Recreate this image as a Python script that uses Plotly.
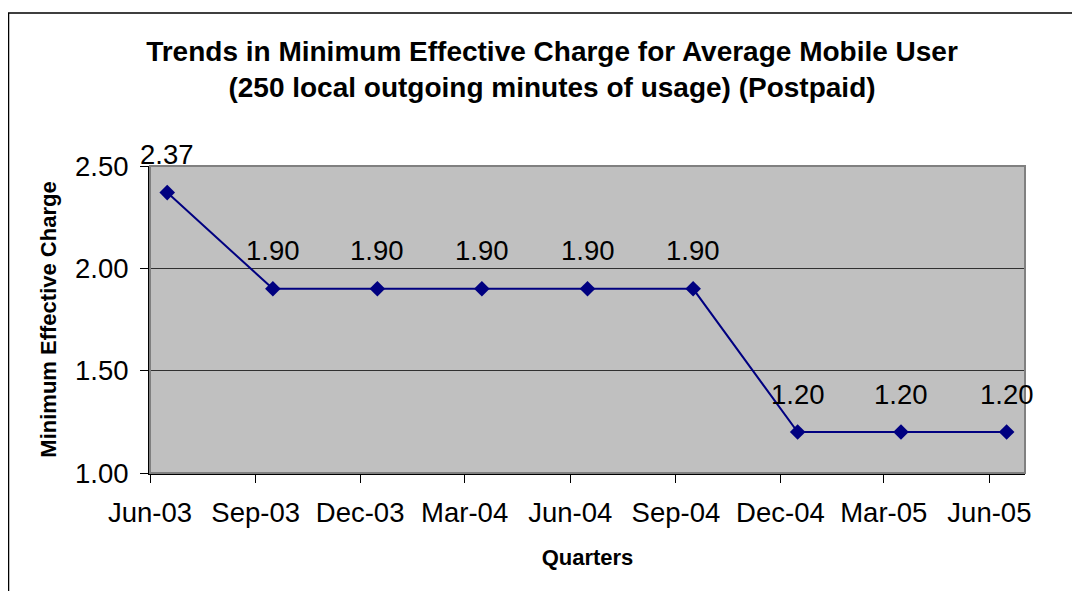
import plotly.graph_objects as go

# Data
quarter_dates = ["2003-06-16", "2003-09-16", "2003-12-16", "2004-03-16", "2004-06-16",
                 "2004-09-16", "2004-12-16", "2005-03-16", "2005-06-16"]
charges = [2.37, 1.90, 1.90, 1.90, 1.90, 1.90, 1.20, 1.20, 1.20]
label_texts = ["2.37", "1.90", "1.90", "1.90", "1.90", "1.90", "1.20", "1.20", "1.20"]
y_ticks = [1.00, 1.50, 2.00, 2.50]
y_tick_labels = ["1.00", "1.50", "2.00", "2.50"]

FONT = "Liberation Sans, Arial, sans-serif"
NAVY = "#000080"

fig = go.Figure()
fig.add_trace(go.Scatter(
    x=quarter_dates, y=charges, mode="lines+markers",
    line=dict(color=NAVY, width=2),
    marker=dict(symbol="diamond", size=12, color=NAVY),
    hoverinfo="skip", showlegend=False,
))

for xd, yv, txt in zip(quarter_dates, charges, label_texts):
    fig.add_annotation(x=xd, y=yv, text=txt, showarrow=False, yshift=38,
                       font=dict(family=FONT, size=27.5, color="black"))

# plot-area border (gray top/right)
fig.add_shape(type="rect", xref="paper", yref="paper", x0=0, x1=1, y0=0, y1=1,
              line=dict(color="#808080", width=2), layer="above")
# outer chart border
fig.add_shape(type="rect", xref="paper", yref="paper", x0=-0.1617, x1=1.081,
              y0=-0.414, y1=1.4985, line=dict(color="black", width=1.5))

fig.update_layout(
    width=1080, height=591,
    margin=dict(l=142, r=63, t=158, b=126),
    paper_bgcolor="white", plot_bgcolor="#C0C0C0",
    font=dict(family=FONT, color="black"),
    title=dict(
        text="Trends in Minimum Effective Charge for Average Mobile User<br>"
             "(250 local outgoing minutes of usage) (Postpaid)",
        x=544/1080, xanchor="center", xref="container",
        y=1 - 53/591, yanchor="top", yref="container",
        font=dict(family=FONT, size=28, color="black", weight="bold"),
    ),
    xaxis=dict(
        type="date", range=["2003-06-01", "2005-07-02"],
        tick0="2003-06-01", dtick="M3", tickformat="%b-%y",
        ticks="outside", ticklen=8, tickcolor="black", tickwidth=1,
        ticklabelstandoff=6,
        showgrid=False, zeroline=False,
        showline=True, linecolor="black", linewidth=2,
        tickfont=dict(family=FONT, size=27.5, color="black"),
        title=dict(text="<b>Quarters</b>", font=dict(family=FONT, size=22, color="black"),
                   standoff=23),
    ),
    yaxis=dict(
        range=[1.0, 2.5], tickvals=y_ticks, ticktext=y_tick_labels,
        ticks="outside", ticklen=8, tickcolor="black", tickwidth=1,
        ticklabelstandoff=6,
        showgrid=True, gridcolor="#303030", gridwidth=1,
        zeroline=False, showline=True, linecolor="black", linewidth=2,
        tickfont=dict(family=FONT, size=27.5, color="black"),
        title=dict(text="<b>Minimum Effective Charge</b>",
                   font=dict(family=FONT, size=22, color="black"), standoff=12),
    ),
)

fig.write_html("out.html")
